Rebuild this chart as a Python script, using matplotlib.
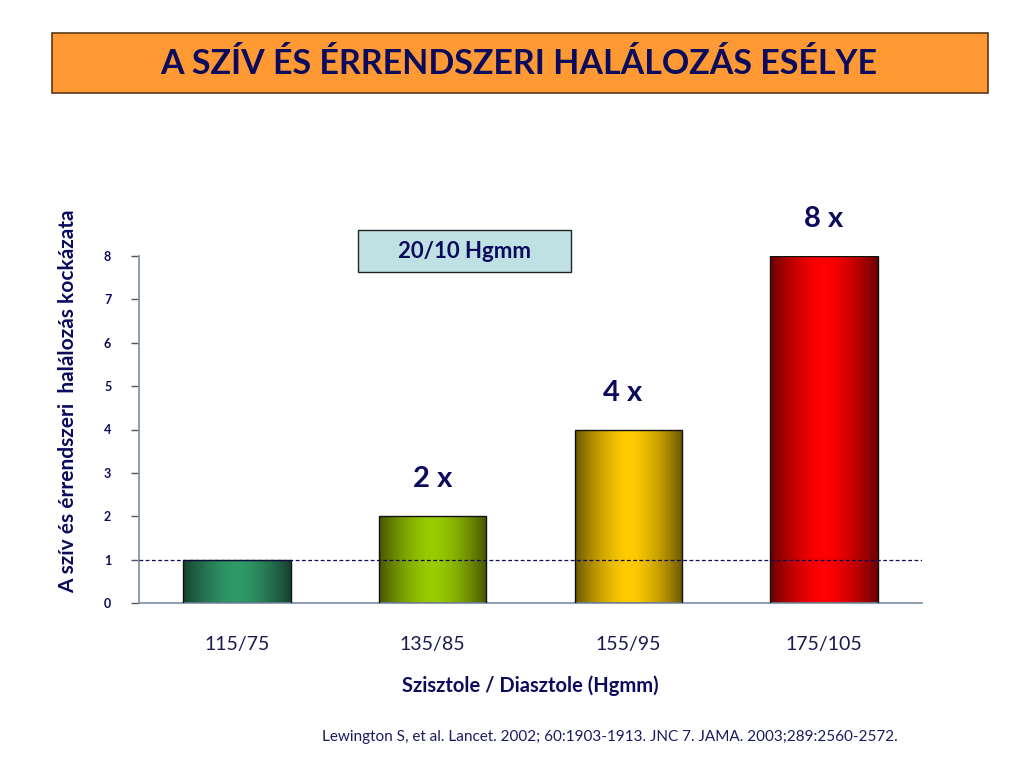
import numpy as np
import matplotlib
matplotlib.use("Agg")
import matplotlib.pyplot as plt
from matplotlib.patches import Rectangle
from matplotlib.colors import LinearSegmentedColormap

plt.rcParams['font.family'] = ['Lato', 'DejaVu Sans']

categories = ["115/75", "135/85", "155/95", "175/105"]
risk = [1, 2, 4, 8]
bar_labels = ["", "2 x", "4 x", "8 x"]
yticks = [0, 1, 2, 3, 4, 5, 6, 7, 8]
bar_colors = [("#17402f", "#2f9a68"), ("#465500", "#9acc00"),
              ("#6a5600", "#ffcc00"), ("#6a0000", "#ff0000")]

NAVY = "#0b0b5e"

fig = plt.figure(figsize=(10.24, 7.68), dpi=100)

# title box
fig.patches.append(Rectangle((52/1024, 1-93/768), (988-52)/1024, 60/768,
                             transform=fig.transFigure, facecolor="#ff9933",
                             edgecolor="#5a3a1a", linewidth=1.2))
fig.text(519/1024, 1-64/768, "A SZÍV ÉS ÉRRENDSZERI HALÁLOZÁS ESÉLYE",
         ha="center", va="center", fontsize=24.5, fontweight="bold", color=NAVY)

ax = fig.add_axes([139/1024, 1-603/768, (922-139)/1024, (603-256)/768])
ax.set_xlim(-0.5, 3.5)
ax.set_ylim(0, 8)
width = 0.55

grad = np.abs(np.linspace(-1, 1, 256))
grad = 1 - grad ** 1.6
for i, (cat, v) in enumerate(zip(categories, risk)):
    dark, bright = bar_colors[i]
    cmap = LinearSegmentedColormap.from_list("g%d" % i, [dark, bright])
    x0 = i - width / 2
    rect = Rectangle((x0, 0), width, v, facecolor="none", edgecolor="#111111",
                     linewidth=1.0, zorder=3)
    ax.add_patch(rect)
    im = ax.imshow(grad[np.newaxis, :], extent=(x0, x0 + width, 0, v),
                   aspect="auto", cmap=cmap, vmin=0, vmax=1, zorder=2,
                   interpolation="bicubic")
    im.set_clip_path(rect)
    if bar_labels[i]:
        ax.text(i - (0.03 if i == 2 else 0), v + 0.85, bar_labels[i],
                ha="center", va="center", fontsize=21, fontweight="bold",
                color=NAVY, clip_on=False)

ax.set_xlim(-0.5, 3.5)
ax.set_ylim(0, 8)
ax.axhline(1, color=NAVY, linestyle=(0, (3, 2)), linewidth=0.9, zorder=4)

for s in ["top", "right"]:
    ax.spines[s].set_visible(False)
for s in ["left", "bottom"]:
    ax.spines[s].set_color("#8296aa")
    ax.spines[s].set_linewidth(1.3)

ax.set_yticks(yticks)
ax.set_yticklabels([str(t) for t in yticks], fontsize=9, fontweight="bold",
                   color=NAVY)
ax.tick_params(axis="y", length=6, width=1, color="#555555", pad=14)
ax.set_xticks(range(len(categories)))
ax.set_xticklabels(categories, fontsize=14, color="#1a1a50")
ax.tick_params(axis="x", length=0, pad=24)

ax.set_xlabel("Szisztole / Diasztole (Hgmm)", fontsize=14.5, fontweight="bold",
              color=NAVY, labelpad=16)
fig.text(68/1024, 1-401/768, "A szív és érrendszeri  halálozás kockázata",
         rotation=90, ha="center", va="center", fontsize=15,
         fontweight="bold", color=NAVY)

# 20/10 box
fig.patches.append(Rectangle((358/1024, 1-272/768), (571-358)/1024, 42/768,
                             transform=fig.transFigure, facecolor="#bfe1e3",
                             edgecolor="#222222", linewidth=1.0))
fig.text(465/1024, 1-252/768, "20/10 Hgmm", ha="center", va="center",
         fontsize=16, fontweight="bold", color=NAVY)

fig.text(610/1024, 1-737/768,
         "Lewington S, et al. Lancet. 2002; 60:1903-1913. JNC 7. JAMA. 2003;289:2560-2572.",
         ha="center", va="center", fontsize=11, color="#1a1a60")

fig.savefig("out.png", dpi=100)
